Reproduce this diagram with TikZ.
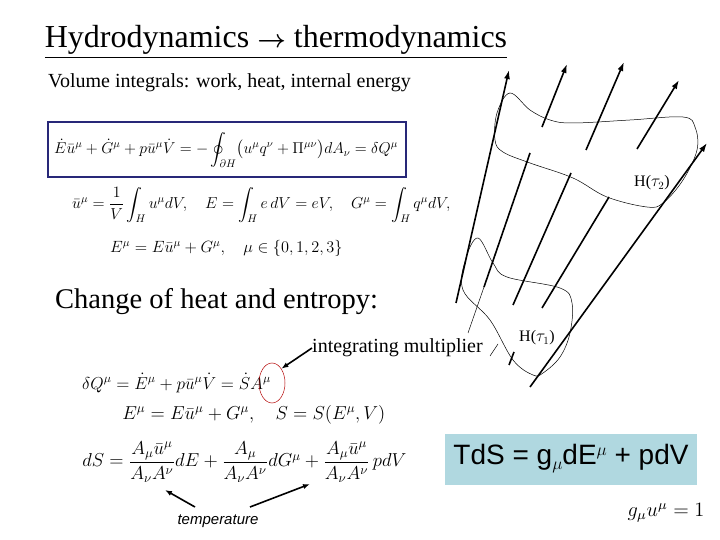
\documentclass[tikz,border=0pt]{standalone}
\usepackage{amsmath}
\usepackage{fontspec}
\setmainfont{Liberation Serif}
\setsansfont{Liberation Sans}
\usetikzlibrary{arrows.meta,shapes.geometric}
\definecolor{navy}{RGB}{40,40,120}
\definecolor{lblue}{RGB}{176,216,224}
\begin{document}
\begin{tikzpicture}[x=1pt,y=-1pt,
  flow/.style={line width=1.6pt,-{Latex[length=9pt,width=6pt]}},
  wl/.style={line width=1.6pt},
  thin/.style={line width=0.5pt},
  eq/.style={anchor=west,inner sep=0pt,transform shape,font=\fontsize{14}{16}\selectfont}]
\useasboundingbox (0,0) rectangle (720,540);
\node[inner sep=0pt,font=\fontsize{32}{36}\selectfont] (title) at (276,42) {\underline{Hydrodynamics $\boldsymbol\rightarrow$ thermodynamics}};
\node[anchor=west,inner sep=0pt,font=\fontsize{20}{23}\selectfont] (vol) at (48,83) {Volume integrals: work, heat, internal energy};
\draw[navy,line width=2.2pt] (48,122) rectangle (406,177);
\node[eq,scale=1.09] (e1) at (54,150) {$\dot E\bar u^\mu+\dot G^\mu+p\bar u^\mu\dot V=-\displaystyle\oint_{\partial H}\!\big(u^\mu q^\nu+\Pi^{\mu\nu}\big)dA_\nu=\delta Q^\mu$};
\node[eq,scale=1.1] (e2) at (72,205) {$\bar u^\mu=\dfrac1V\displaystyle\int_H u^\mu dV,\quad E=\int_H e\,dV=eV,\quad G^\mu=\int_H q^\mu dV,$};
\node[eq,scale=1.13] (e3) at (110,248) {$E^\mu=E\bar u^\mu+G^\mu,\quad \mu\in\{0,1,2,3\}$};
\node[anchor=west,inner sep=0pt,font=\fontsize{28.5}{32}\selectfont] (ch) at (55,302) {Change of heat and entropy:};
\node[anchor=west,inner sep=0pt,font=\fontsize{20}{23}\selectfont] (im) at (312,348) {integrating multiplier};
\node[eq,scale=1.2] (e4) at (82,383) {$\delta Q^\mu=\dot E^\mu+p\bar u^\mu\dot V=\dot S A^\mu$};
\node[draw=red!70!black,thin,ellipse,minimum width=26pt,minimum height=40pt,inner sep=0pt] (ell) at (272,383) {};
\draw[wl,-{Latex[length=7pt]}] (im.west) -- (ell.north east);
\node[eq,scale=1.3] (e5) at (122,415) {$E^\mu=E\bar u^\mu+G^\mu,\quad S=S(E^\mu,V)$};
\node[eq,scale=1.3] (e6) at (82,462) {$dS=\dfrac{A_\mu\bar u^\mu}{A_\nu A^\nu}dE+\dfrac{A_\mu}{A_\nu A^\nu}dG^\mu+\dfrac{A_\mu\bar u^\mu}{A_\nu A^\nu}\,pdV$};
\node[font=\sffamily\itshape\fontsize{15}{18}\selectfont,inner sep=1pt] (temp) at (218,521) {temperature};
\coordinate (t1) at (165,490); \coordinate (t2) at (310,484);
\draw[wl,-{Latex[length=7pt]}] (195,507) -- (t1);
\draw[wl,-{Latex[length=7pt]}] (250,507) -- (t2);
\node[fill=lblue,minimum width=252pt,minimum height=51pt,inner sep=0pt] (box) at (571,459) {};
\node[font=\sffamily\fontsize{28}{30}\selectfont,inner sep=0pt] (tds) at (box.center) {TdS = g\raisebox{-5pt}{\fontsize{18}{20}\selectfont$\mu$}dE\raisebox{9pt}{\fontsize{18}{20}\selectfont$\mu$} + pdV};
\node[inner sep=0pt,transform shape,scale=1.7,font=\fontsize{12}{14}\selectfont] (gu) at (666,513) {$g_\mu u^\mu=1$};
% worldlines
\draw[flow] (456,303) -- (509,70);
\draw[flow] (542,127) -- (567,64);
\draw[flow] (586,150) -- (624,62);
\draw[flow] (637,149) -- (679,80);
\draw[flow] (530,387) -- (707,143);
\draw[wl] (484,287) -- (530,153);
\draw[wl] (513,305) -- (571,173);
\draw[wl] (542,308) -- (609,197);
\draw[wl] (509,365) -- (514,352);
\draw[thin] (468,333) -- (484,287);
\draw[thin] (490,356) -- (498,344);
% hypersurfaces
\draw[thin] plot[smooth cycle,tension=0.6] coordinates {(510,93) (530,110) (550,120) (573,123) (630,120) (683,117) (695,127) (697,150) (683,180) (663,203) (647,207) (607,197) (573,178) (530,163) (503,152) (495,140) (497,113)};
\draw[thin] plot[smooth cycle,tension=0.6] coordinates {(478,238) (493,263) (507,277) (560,288) (572,303) (570,333) (560,357) (543,373) (533,375) (513,360) (490,320) (463,290) (466,258)};
\node[font=\fontsize{16}{18}\selectfont,inner sep=0pt] (h2) at (652,183) {H($\tau_2$)};
\node[font=\fontsize{16}{18}\selectfont,inner sep=0pt] (h1) at (537,338) {H($\tau_1$)};
\end{tikzpicture}
\end{document}
